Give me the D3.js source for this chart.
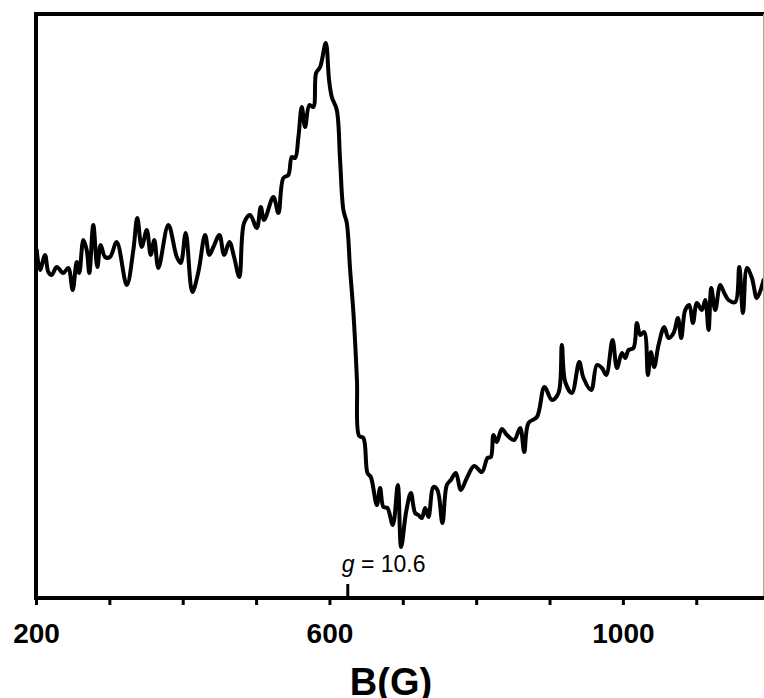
<!DOCTYPE html>
<html>
<head>
<meta charset="utf-8">
<script src="https://cdn.jsdelivr.net/npm/d3@7/dist/d3.min.js"></script>
<style>
  body { margin: 0; background: #fff; }
  svg text { font-family: "Liberation Sans", Arial, sans-serif; }
</style>
</head>
<body>
<script>
// EPR spectrum, derivative signal vs field B(G)

const fieldG = [201, 205.5, 212.3, 216.8, 221.4, 228.2, 237.2, 244, 250, 255.5, 259, 264.5, 269.1, 272.7, 278.1, 283.6, 288.2, 294.1, 300.9, 310,
  323.7, 332.7, 338.1, 344.1, 351, 356.4, 361.3, 366.8, 380.4, 391.9, 397.3, 404.1, 413.1, 421.3, 430.5, 436.3, 441.8, 450, 456.4, 463.6,
  470, 477.2, 483.6, 491.8, 501, 506.4, 510.9, 523.6, 530.4, 537.2, 544, 548.7, 553.2, 557.7, 562.3, 566.8, 572.7, 578.1, 581.8, 587.3,
  595, 599.5, 603.2, 610, 614.5, 619, 623.7, 628.2, 632.7, 637.5, 640.5, 646.3, 651.8, 656.4, 664.6, 669.1, 673.6, 679, 686.4, 693.2,
  697.7, 704.5, 711, 716.8, 721.3, 725.9, 730.5, 735, 741.8, 747.2, 754, 760, 765.5, 772.3, 779.1, 787.3, 797.3, 807.8, 815.4, 820,
  823.6, 828.2, 835, 841.9, 851.8, 860, 865.5, 871.3, 882.8, 893.1, 903.2, 912.2, 916.8, 921.4, 930.5, 940.5, 946.3, 956.8, 964.6, 971.4,
  977.3, 985.9, 991.9, 998.7, 1003.2, 1007.7, 1014.5, 1019.1, 1023.6, 1029.1, 1034.1, 1038.2, 1042.7, 1048.6, 1056.4, 1062.2, 1069.1, 1075, 1079.5, 1085,
  1090.5, 1095.5, 1100.9, 1107.7, 1112.3, 1116.8, 1120.5, 1125.9, 1132.7, 1138.2, 1144, 1153.2, 1158.6, 1163.7, 1169.1, 1175.9, 1182.7, 1191.8]

const signal = [56, 36, 51, 34, 31, 39, 33, 38, 16, 44, 33, 66, 56, 33, 81, 39, 61, 49, 49, 64,
  21, 56, 88, 59, 76, 51, 66, 38, 81, 49, 43, 73, 14, 34, 71, 51, 59, 71, 51, 64,
  49, 29, 83, 91, 78, 99, 86, 109, 93, 128, 131, 149, 148, 169, 199, 179, 201, 199, 233, 239,
  263, 226, 209, 196, 146, 96, 83, 36, -7, -74, -130, -132, -167, -171, -199, -182, -201, -202, -219, -179,
  -241, -206, -187, -207, -209, -212, -202, -211, -181, -184, -217, -179, -174, -167, -184, -172, -160, -166, -152, -151,
  -129, -136, -123, -129, -134, -122, -146, -117, -111, -81, -94, -87, -39, -76, -87, -56, -72, -84, -59, -62,
  -69, -34, -62, -47, -52, -44, -42, -17, -29, -26, -69, -46, -61, -39, -21, -32, -27, -12, -32, -4,
  1, -17, 3, -4, 6, -24, 18, -4, 21, 13, 6, 4, 39, -7, 38, 28, 8, 26]

const tickValues = [200, 300, 400, 500, 600, 700, 800, 900, 1000, 1100]
const tickLabels = [200, 600, 1000]
const gField = 625
const gLabel = '10.6'

const W = 764
const H = 698
const mLeft = 36, mRight = 763, mTop = 14, mBottom = 598

const x = d3.scaleLinear().domain([200, 1191]).range([mLeft, mRight])
const y = d3.scaleLinear().domain([-292, 292]).range([mBottom, mTop])

const svg = d3.select('body').append('svg')
  .attr('width', W)
  .attr('height', H)

svg.append('defs').append('clipPath').attr('id', 'plotclip')
  .append('rect')
  .attr('x', mLeft).attr('y', mTop - 4)
  .attr('width', mRight - mLeft).attr('height', mBottom - mTop + 8)

// spectrum
const pts = fieldG.map((b, i) => [b, signal[i]])
const line = d3.line()
  .x(d => x(d[0]))
  .y(d => y(d[1]))
  .curve(d3.curveCatmullRom.alpha(0.5))

svg.append('path')
  .attr('d', line(pts))
  .attr('clip-path', 'url(#plotclip)')
  .attr('fill', 'none')
  .attr('stroke', '#000')
  .attr('stroke-width', 4)
  .attr('stroke-linejoin', 'round')
  .attr('stroke-linecap', 'round')

// frame
svg.append('path')
  .attr('d', `M${mRight + 2},${mTop} H${mLeft} V${mBottom}`)
  .attr('fill', 'none')
  .attr('stroke', '#000')
  .attr('stroke-width', 4)
svg.append('line')
  .attr('x1', mRight + 0.5).attr('x2', mRight + 0.5)
  .attr('y1', mTop).attr('y2', mBottom)
  .attr('stroke', '#aaa')
  .attr('stroke-width', 1)

// x axis
const xAxis = d3.axisBottom(x)
  .tickValues(tickValues)
  .tickSize(7)
  .tickSizeOuter(0)
  .tickFormat(d => tickLabels.includes(d) ? d : '')

const gx = svg.append('g')
  .attr('transform', `translate(0,${mBottom})`)
  .call(xAxis)
gx.select('.domain')
  .attr('stroke', '#000')
  .attr('stroke-width', 4)
  .attr('d', `M${mLeft - 2},0H${mRight + 1}`)
gx.selectAll('.tick line')
  .attr('stroke', '#000')
  .attr('stroke-width', 3)
gx.selectAll('.tick text')
  .attr('y', 45)
  .attr('dy', 0)
  .attr('font-size', 28)
  .attr('font-weight', 'bold')
  .attr('fill', '#000')

// g marker
svg.append('line')
  .attr('x1', x(gField)).attr('x2', x(gField))
  .attr('y1', mBottom - 14).attr('y2', mBottom)
  .attr('stroke', '#000')
  .attr('stroke-width', 3)

const gt = svg.append('text')
  .attr('x', x(gField) - 6)
  .attr('y', 572)
  .attr('font-size', 23)
  .attr('fill', '#000')
gt.append('tspan').attr('font-style', 'italic').text('g')
gt.append('tspan').text(' = ' + gLabel)

// axis title
svg.append('text')
  .attr('x', 391)
  .attr('y', 695)
  .attr('text-anchor', 'middle')
  .attr('font-size', 38)
  .attr('font-weight', 'bold')
  .attr('fill', '#000')
  .text('B(G)')
</script>
</body>
</html>
